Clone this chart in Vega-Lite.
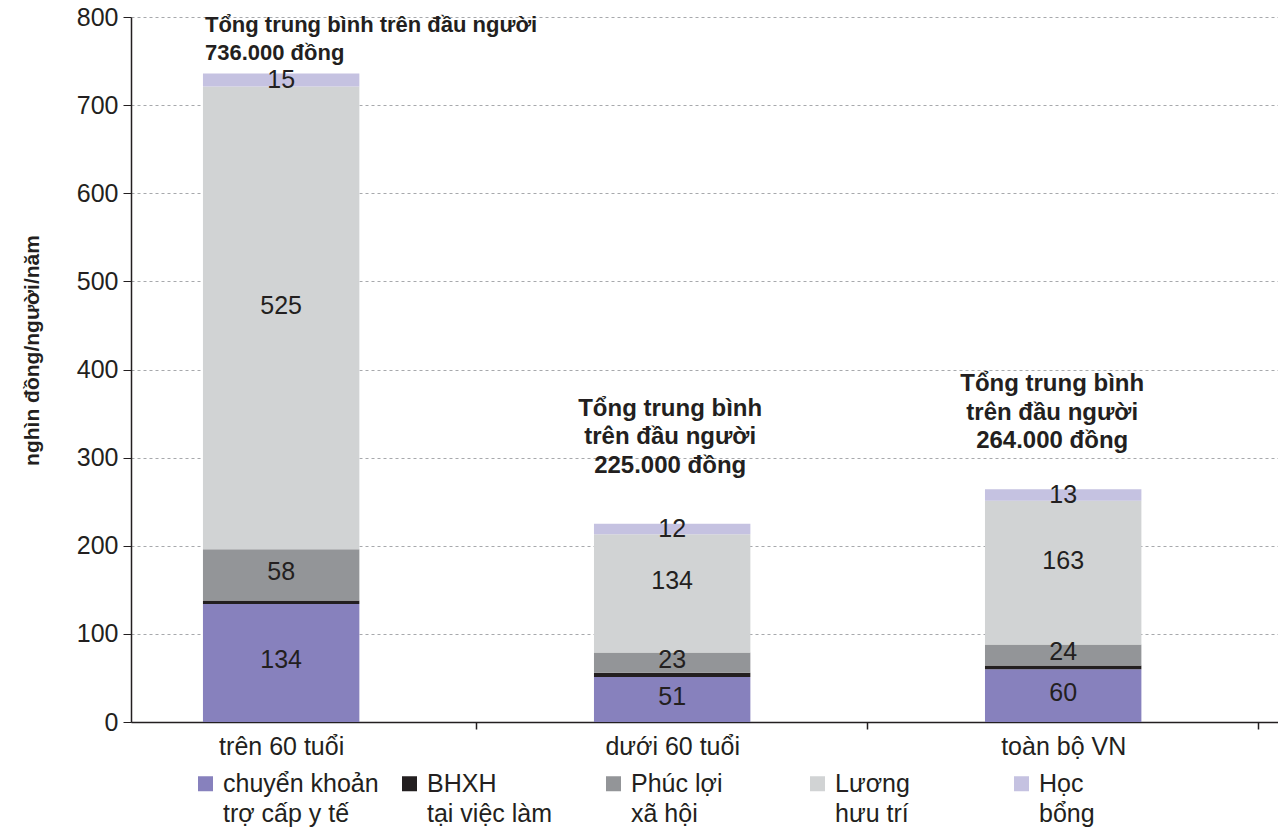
{
  "$schema": "https://vega.github.io/schema/vega-lite/v6.json",
  "width": 1147,
  "height": 705,
  "autosize": {"type": "none"},
  "padding": {"left": 131, "top": 17, "right": 0, "bottom": 107},
  "background": "white",
  "config": {
    "font": "Liberation Sans",
    "view": {"stroke": null},
    "style": {"guide-label": {"lineHeight": 30}}
  },
  "datasets": {
    "parts": [
      {"nhom": "trên 60 tuổi", "loai": "chuyển khoản\ntrợ cấp y tế", "ord": 1, "v": 134},
      {"nhom": "trên 60 tuổi", "loai": "BHXH\ntại việc làm", "ord": 2, "v": 4},
      {"nhom": "trên 60 tuổi", "loai": "Phúc lợi\nxã hội", "ord": 3, "v": 58},
      {"nhom": "trên 60 tuổi", "loai": "Lương\nhưu trí", "ord": 4, "v": 525},
      {"nhom": "trên 60 tuổi", "loai": "Học\nbổng", "ord": 5, "v": 15},
      {"nhom": "dưới 60 tuổi", "loai": "chuyển khoản\ntrợ cấp y tế", "ord": 1, "v": 51},
      {"nhom": "dưới 60 tuổi", "loai": "BHXH\ntại việc làm", "ord": 2, "v": 5},
      {"nhom": "dưới 60 tuổi", "loai": "Phúc lợi\nxã hội", "ord": 3, "v": 23},
      {"nhom": "dưới 60 tuổi", "loai": "Lương\nhưu trí", "ord": 4, "v": 134},
      {"nhom": "dưới 60 tuổi", "loai": "Học\nbổng", "ord": 5, "v": 12},
      {"nhom": "toàn bộ VN", "loai": "chuyển khoản\ntrợ cấp y tế", "ord": 1, "v": 60},
      {"nhom": "toàn bộ VN", "loai": "BHXH\ntại việc làm", "ord": 2, "v": 4},
      {"nhom": "toàn bộ VN", "loai": "Phúc lợi\nxã hội", "ord": 3, "v": 24},
      {"nhom": "toàn bộ VN", "loai": "Lương\nhưu trí", "ord": 4, "v": 163},
      {"nhom": "toàn bộ VN", "loai": "Học\nbổng", "ord": 5, "v": 13}
    ],
    "notes": [
      {"nhom": "trên 60 tuổi", "tong": 736, "dong": ["Tổng trung bình trên đầu người", " 736.000 đồng"]},
      {"nhom": "dưới 60 tuổi", "tong": 225, "dong": ["Tổng trung bình", "trên đầu người", "225.000 đồng"]},
      {"nhom": "toàn bộ VN", "tong": 264, "dong": ["Tổng trung bình", "trên đầu người", "264.000 đồng"]}
    ]
  },
  "layer": [
    {
      "data": {"name": "parts"},
      "transform": [
        {"stack": "v", "groupby": ["nhom"], "sort": [{"field": "ord"}], "as": ["v0", "v1"]}
      ],
      "mark": {"type": "bar"},
      "encoding": {
        "x": {
          "field": "nhom",
          "type": "nominal",
          "sort": null,
          "scale": {"paddingInner": 0.6, "paddingOuter": 0.2667, "align": 0.345},
          "axis": {
            "title": null,
            "labelAngle": 0,
            "ticks": true,
            "bandPosition": 1,
            "tickOffset": 117,
            "labelOffset": -117,
            "labelFontSize": 25,
            "labelColor": "#231f20",
            "labelPadding": 5,
            "tickSize": 7,
            "tickWidth": 1.5,
            "tickColor": "#231f20",
            "domainColor": "#231f20",
            "domainWidth": 1.5,
            "grid": false
          }
        },
        "y": {
          "field": "v0",
          "type": "quantitative",
          "scale": {"domain": [0, 800], "nice": false},
          "axis": {
            "title": "nghìn đồng/người/năm",
            "titleFontSize": 21,
            "titleFontWeight": "bold",
            "titleColor": "#231f20",
            "titleX": -99,
            "titleY": 333,
            "titleAngle": -90,
            "titleAlign": "center",
            "titleBaseline": "middle",
            "values": [0, 100, 200, 300, 400, 500, 600, 700, 800],
            "labelFontSize": 25,
            "labelColor": "#231f20",
            "labelPadding": 5,
            "tickSize": 8,
            "tickColor": "#231f20",
            "domainColor": "#231f20",
            "domainWidth": 1.5,
            "grid": true,
            "gridDash": [3, 3],
            "gridColor": "#a7a9ac"
          }
        },
        "y2": {"field": "v1"},
        "color": {
          "field": "loai",
          "type": "nominal",
          "scale": {
            "domain": ["chuyển khoản\ntrợ cấp y tế", "BHXH\ntại việc làm", "Phúc lợi\nxã hội", "Lương\nhưu trí", "Học\nbổng"],
            "range": ["#8781bd", "#231f20", "#939598", "#d1d3d4", "#c5c2e1"]
          },
          "legend": {
            "title": null,
            "orient": "none",
            "legendX": 62,
            "legendY": 754,
            "direction": "horizontal",
            "columns": 5,
            "gridAlign": "all",
            "columnPadding": 18,
            "padding": 0,
            "symbolType": "square",
            "symbolSize": 225,
            "symbolStrokeWidth": 0,
            "labelFontSize": 25,
            "labelColor": "#231f20",
            "labelLimit": 300,
            "labelOffset": 5,
            "labelBaseline": "middle",
            "labelExpr": "split(datum.label, '\\n')"
          }
        },
        "order": {"field": "ord"}
      }
    },
    {
      "data": {"name": "parts"},
      "transform": [
        {"stack": "v", "groupby": ["nhom"], "sort": [{"field": "ord"}], "as": ["v0", "v1"]},
        {"filter": "datum.ord == 1 || datum.ord == 3"},
        {"calculate": "(datum.v0 + datum.v1) / 2", "as": "mid"}
      ],
      "mark": {"type": "text", "fontSize": 25, "color": "#231f20", "baseline": "middle", "dy": -3},
      "encoding": {
        "x": {"field": "nhom", "type": "nominal", "sort": null},
        "y": {"field": "mid", "type": "quantitative"},
        "text": {"field": "v", "type": "quantitative"}
      }
    },
    {
      "data": {"name": "parts"},
      "transform": [
        {"stack": "v", "groupby": ["nhom"], "sort": [{"field": "ord"}], "as": ["v0", "v1"]},
        {"filter": "datum.ord == 5"},
        {"calculate": "(datum.v0 + datum.v1) / 2", "as": "mid"}
      ],
      "mark": {"type": "text", "fontSize": 25, "color": "#231f20", "baseline": "middle", "dy": 0},
      "encoding": {
        "x": {"field": "nhom", "type": "nominal", "sort": null},
        "y": {"field": "mid", "type": "quantitative"},
        "text": {"field": "v", "type": "quantitative"}
      }
    },
    {
      "data": {"name": "parts"},
      "transform": [
        {"stack": "v", "groupby": ["nhom"], "sort": [{"field": "ord"}], "as": ["v0", "v1"]},
        {"filter": "datum.ord == 4"},
        {"calculate": "(datum.v0 + datum.v1) / 2", "as": "mid"}
      ],
      "mark": {"type": "text", "fontSize": 25, "color": "#231f20", "baseline": "middle", "dy": -12},
      "encoding": {
        "x": {"field": "nhom", "type": "nominal", "sort": null},
        "y": {"field": "mid", "type": "quantitative"},
        "text": {"field": "v", "type": "quantitative"}
      }
    },
    {
      "data": {"name": "notes"},
      "transform": [{"filter": "datum.nhom == 'trên 60 tuổi'"}],
      "mark": {"type": "text", "fontSize": 22, "fontWeight": "bold", "color": "#231f20", "align": "left", "baseline": "bottom", "lineHeight": 28, "dx": 2, "dy": -36},
      "encoding": {
        "x": {"field": "nhom", "type": "nominal", "sort": null, "bandPosition": 0},
        "y": {"field": "tong", "type": "quantitative"},
        "text": {"field": "dong"}
      }
    },
    {
      "data": {"name": "notes"},
      "transform": [{"filter": "datum.nhom == 'dưới 60 tuổi'"}],
      "mark": {"type": "text", "fontSize": 24, "fontWeight": "bold", "color": "#231f20", "align": "center", "baseline": "bottom", "lineHeight": 28.5, "dx": -2, "dy": -103},
      "encoding": {
        "x": {"field": "nhom", "type": "nominal", "sort": null},
        "y": {"field": "tong", "type": "quantitative"},
        "text": {"field": "dong"}
      }
    },
    {
      "data": {"name": "notes"},
      "transform": [{"filter": "datum.nhom == 'toàn bộ VN'"}],
      "mark": {"type": "text", "fontSize": 24, "fontWeight": "bold", "color": "#231f20", "align": "center", "baseline": "bottom", "lineHeight": 28.5, "dx": -11, "dy": -93},
      "encoding": {
        "x": {"field": "nhom", "type": "nominal", "sort": null},
        "y": {"field": "tong", "type": "quantitative"},
        "text": {"field": "dong"}
      }
    }
  ]
}
